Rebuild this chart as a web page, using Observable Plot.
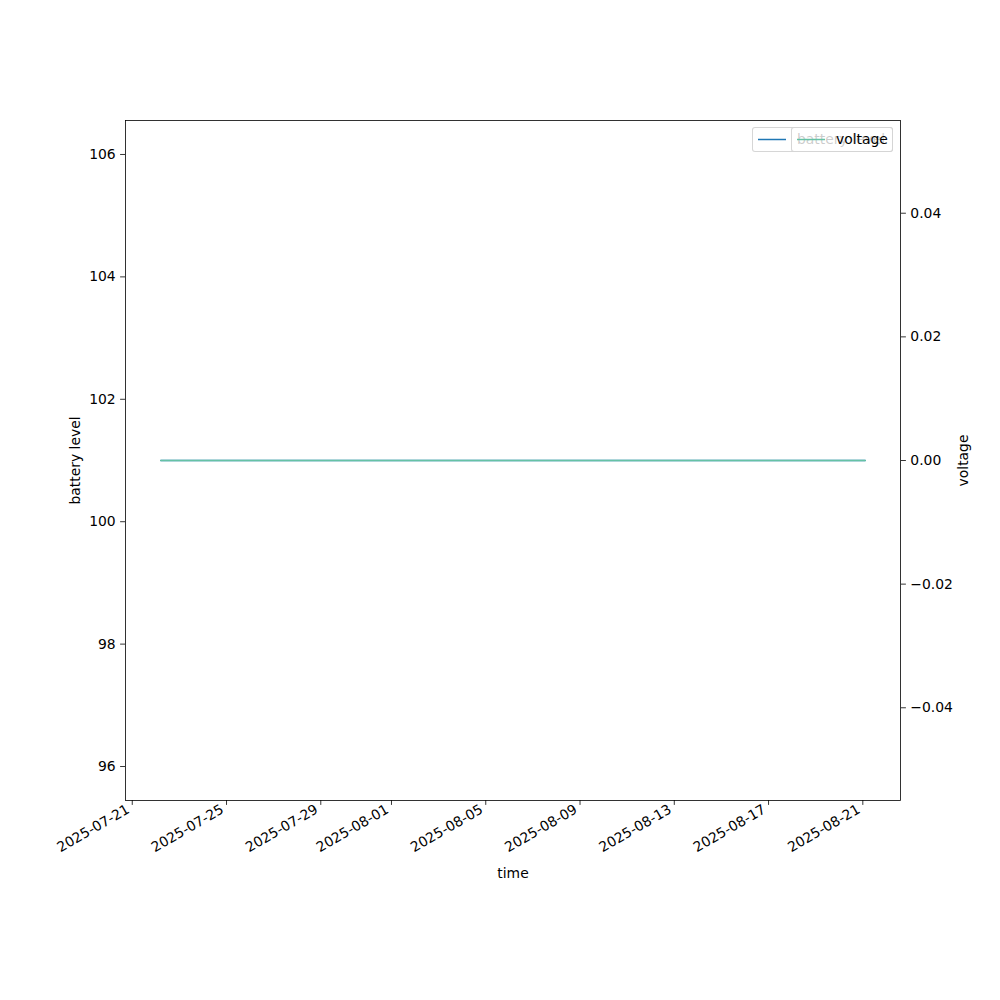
<!DOCTYPE html>
<html><head><meta charset="utf-8">
<script src="https://cdn.jsdelivr.net/npm/d3@7"></script>
<script src="https://cdn.jsdelivr.net/npm/@observablehq/plot@0.6"></script>
<style>
body{margin:0;background:white;}
#wrap{position:relative;width:1000px;height:1000px;font-family:"DejaVu Sans",sans-serif;}
.leg{position:absolute;box-sizing:border-box;top:127px;height:25px;background:rgba(255,255,255,0.8);border:1px solid rgba(204,204,204,0.8);border-radius:3px;font-size:13.9px;}
.leg svg{position:absolute;left:0;top:0;}
.leg span{position:absolute;top:3px;line-height:17px;white-space:nowrap;color:#000;}
</style></head><body><div id="wrap"></div>
<script>
// data
const times = ["2025-07-22T05:00:00Z", "2025-08-21T02:30:00Z"];
const batteryLevel = [101, 101];
const voltage = [0, 0];
const xTicks = ["2025-07-21","2025-07-25","2025-07-29","2025-08-01","2025-08-05","2025-08-09","2025-08-13","2025-08-17","2025-08-21"];
const batteryTicks = [96, 98, 100, 102, 104, 106];
const voltageTicks = [-0.04, -0.02, 0, 0.02, 0.04];
const seriesNames = ["battery level", "voltage"];
const seriesColors = ["#1f77b4", "#66c2a5"];

const rows = times.map((t, i) => ({t: new Date(t), b: batteryLevel[i], v: voltage[i]}));
const bDomain = [101 - 5.555, 101 + 5.555];
const vDomain = [-0.055, 0.055];
const vToB = v => bDomain[0] + (v - vDomain[0]) * (bDomain[1] - bDomain[0]) / (vDomain[1] - vDomain[0]);
const bToV = b => vDomain[0] + (b - bDomain[0]) * (vDomain[1] - vDomain[0]) / (bDomain[1] - bDomain[0]);

const t0 = +rows[0].t, t1 = +rows[rows.length - 1].t, span = t1 - t0;
const xDomain = [new Date(t0 - 0.05 * span), new Date(t1 + 0.05 * span)];
const fmtDate = d3.utcFormat("%Y-%m-%d");
const fmtV = d => { const s = bToV(d).toFixed(2); return s === "-0.00" ? "0.00" : s.replace("-", "\u2212"); };
const xTickDates = xTicks.map(d => new Date(d + "T00:00:00Z"));

const chart = Plot.plot({
  width: 1000, height: 1000,
  marginLeft: 125, marginRight: 100, marginTop: 120, marginBottom: 200,
  style: {fontFamily: "DejaVu Sans", fontSize: "13.9px", background: "white", color: "black", overflow: "visible"},
  x: {type: "utc", domain: xDomain},
  y: {domain: bDomain},
  marks: [
    Plot.line(rows, {x: "t", y: "b", stroke: seriesColors[0], strokeWidth: 1.5}),
    Plot.line(rows, {x: "t", y: d => vToB(d.v), stroke: seriesColors[1], strokeWidth: 1.5}),
    Plot.frame({stroke: "black", strokeWidth: 0.8}),
    Plot.axisY(batteryTicks, {anchor: "left", tickSize: 4.9, tickPadding: 4.9, strokeWidth: 0.8, label: null, tickFormat: d => String(d)}),
    Plot.axisY(voltageTicks.map(vToB), {anchor: "right", tickSize: 4.9, tickPadding: 4.9, strokeWidth: 0.8, label: null, tickFormat: fmtV}),
    Plot.axisX(xTickDates, {anchor: "bottom", tickSize: 4.9, strokeWidth: 0.8, label: null, tickFormat: () => ""}),
    Plot.axisX(xTickDates, {anchor: "bottom", tickSize: 0, tickPadding: 9.8, label: null, tickRotate: -30, tickFormat: fmtDate, dx: -4, dy: -2}),
    Plot.text(["time"], {frameAnchor: "bottom", lineAnchor: "middle", textAnchor: "middle", dy: 73, fill: "black"}),
    Plot.text(["battery level"], {frameAnchor: "left", textAnchor: "middle", lineAnchor: "middle", dx: -50, rotate: -90, fill: "black"}),
    Plot.text(["voltage"], {frameAnchor: "right", textAnchor: "middle", lineAnchor: "middle", dx: 63, rotate: -90, fill: "black"})
  ]
});
const wrap = document.getElementById("wrap");
wrap.appendChild(chart);

function legend(name, color, left, width) {
  const div = document.createElement("div");
  div.className = "leg";
  div.style.left = left + "px";
  div.style.width = width + "px";
  div.innerHTML = `<svg width="${width}" height="25"><line x1="5" x2="33" y1="11.5" y2="11.5" stroke="${color}" stroke-width="1.5"/></svg><span style="left:44px">${name}</span>`;
  wrap.appendChild(div);
}
legend(seriesNames[0], seriesColors[0], 752, 141);
legend(seriesNames[1], seriesColors[1], 791, 102);
</script></body></html>
